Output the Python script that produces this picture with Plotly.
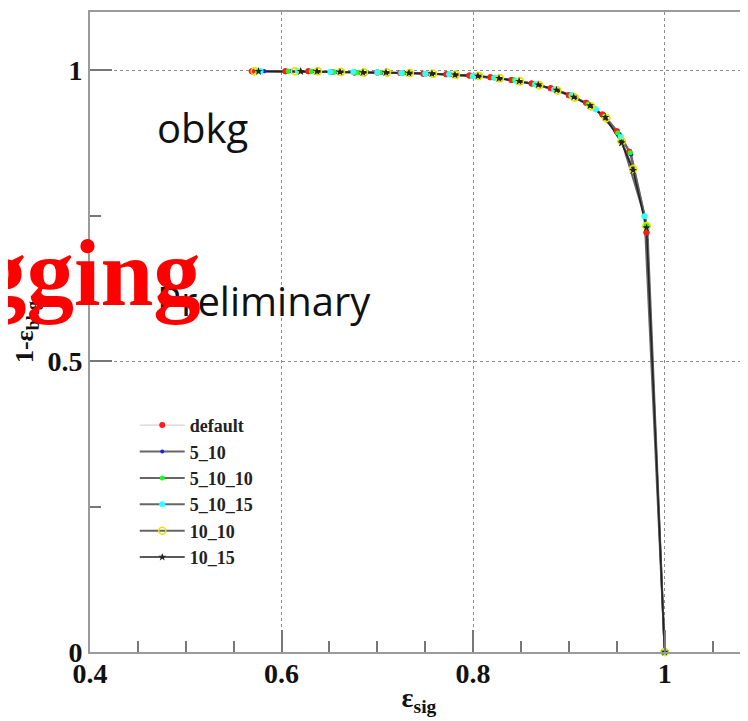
import plotly.graph_objects as go

# ---------------- data ----------------
series_names = ["default", "5_10", "5_10_10", "5_10_15", "10_10", "10_15"]

x_default = [0.569, 0.604, 0.628, 0.652, 0.676, 0.700, 0.724, 0.748, 0.772, 0.796, 0.818,
             0.840, 0.861, 0.881, 0.900, 0.918, 0.935, 0.950, 0.963, 0.981, 1.0]
y_default = [0.998, 0.998, 0.998, 0.997, 0.996, 0.996, 0.995, 0.994, 0.993, 0.991, 0.988,
             0.983, 0.977, 0.969, 0.957, 0.944, 0.924, 0.895, 0.860, 0.721, 0.0]

x_5_10 = [0.582, 0.610, 0.634, 0.658, 0.682, 0.706, 0.730, 0.754, 0.778, 0.802, 0.824,
          0.846, 0.866, 0.886, 0.904, 0.922, 0.938, 0.953, 0.965, 0.982, 1.0]
y_5_10 = [0.998, 0.998, 0.998, 0.997, 0.996, 0.996, 0.995, 0.994, 0.992, 0.990, 0.987,
          0.982, 0.975, 0.966, 0.955, 0.940, 0.920, 0.890, 0.855, 0.728, 0.0]

x_5_10_10 = [0.575, 0.607, 0.631, 0.655, 0.679, 0.703, 0.727, 0.751, 0.775, 0.799, 0.821,
             0.843, 0.864, 0.884, 0.902, 0.920, 0.937, 0.951, 0.964, 0.981, 1.0]
y_5_10_10 = [0.998, 0.998, 0.998, 0.997, 0.996, 0.996, 0.995, 0.994, 0.993, 0.990, 0.987,
             0.983, 0.976, 0.967, 0.956, 0.942, 0.921, 0.892, 0.858, 0.735, 0.0]

x_5_10_15 = [0.578, 0.617, 0.651, 0.675, 0.700, 0.725, 0.750, 0.775, 0.800, 0.823, 0.845,
             0.865, 0.885, 0.903, 0.928, 0.954, 0.979, 1.0]
y_5_10_15 = [0.998, 0.998, 0.997, 0.997, 0.996, 0.995, 0.994, 0.993, 0.990, 0.987, 0.982,
             0.976, 0.967, 0.957, 0.933, 0.885, 0.749, 0.0]

x_10_10 = [0.572, 0.614, 0.638, 0.662, 0.686, 0.710, 0.734, 0.758, 0.782, 0.806, 0.828,
           0.849, 0.869, 0.888, 0.906, 0.923, 0.939, 0.955, 0.967, 0.981, 1.0]
y_10_10 = [0.998, 0.998, 0.998, 0.997, 0.996, 0.996, 0.995, 0.994, 0.992, 0.990, 0.986,
           0.981, 0.974, 0.965, 0.953, 0.938, 0.918, 0.878, 0.830, 0.732, 0.0]

x_10_15 = [0.576, 0.620, 0.637, 0.661, 0.685, 0.709, 0.733, 0.757, 0.781, 0.805, 0.827,
           0.848, 0.868, 0.887, 0.905, 0.922, 0.938, 0.955, 0.967, 0.981, 1.0]
y_10_15 = [0.998, 0.998, 0.998, 0.997, 0.996, 0.996, 0.995, 0.994, 0.992, 0.990, 0.986,
           0.981, 0.975, 0.966, 0.954, 0.939, 0.919, 0.875, 0.828, 0.729, 0.0]

x_tick_vals = [0.4, 0.6, 0.8, 1.0]
x_tick_text = ["0.4", "0.6", "0.8", "1"]
y_tick_vals = [0, 0.5, 1.0]
y_tick_text = ["0", "0.5", "1"]

xs = [x_default, x_5_10, x_5_10_10, x_5_10_15, x_10_10, x_10_15]
ys = [y_default, y_5_10, y_5_10_10, y_5_10_15, y_10_10, y_10_15]

# ---------------- styles ----------------
line_styles = [dict(color="#c8c8c8", width=1),
               dict(color="#666666", width=2),
               dict(color="#666666", width=2),
               dict(color="#666666", width=2),
               dict(color="#666666", width=2),
               dict(color="#222222", width=1.5)]
marker_styles = [dict(symbol="circle", size=6, color="#ff1a1a"),
                 dict(symbol="circle", size=4, color="#1a1aff"),
                 dict(symbol="circle", size=5, color="#1aff1a"),
                 dict(symbol="circle", size=6, color="#33ffff"),
                 dict(symbol="circle-open", size=7, color="#e6e600", line=dict(width=1.5, color="#e6e600")),
                 dict(symbol="star", size=6, color="#222222")]

fig = go.Figure()

for name, x, y, ls, ms in zip(series_names, xs, ys, line_styles, marker_styles):
    fig.add_trace(go.Scatter(x=x, y=y, name=name, mode="lines+markers",
                             line=ls, marker=ms, cliponaxis=False))

# markers re-drawn on top so that colored points stay visible over the lines
for name, x, y, ms in zip(series_names, xs, ys, marker_styles):
    fig.add_trace(go.Scatter(x=x, y=y, name=name, mode="markers", marker=ms,
                             showlegend=False, hoverinfo="skip", cliponaxis=False))

axis_color = "#9a9a9a"
tick_font = dict(family="Liberation Serif", size=28, color="#111111", weight="bold")

fig.update_xaxes(
    range=[0.4, 1.087], tickvals=x_tick_vals, ticktext=x_tick_text,
    ticks="inside", ticklen=22, tickwidth=1.5, tickcolor="#777777",
    minor=dict(dtick=0.05, tick0=0.4, ticks="inside", ticklen=11, tickwidth=1.5,
               tickcolor="#777777", showgrid=False),
    showgrid=True, gridcolor="#8c8c8c", griddash="dot", gridwidth=1,
    showline=True, linecolor=axis_color, linewidth=2, mirror=True,
    zeroline=False, tickfont=tick_font, ticklabelstandoff=-5,
    title=dict(text="ε<sub>sig</sub>",
               font=dict(family="Liberation Serif", size=28, color="#111111", weight="bold"),
               standoff=0),
)
fig.update_yaxes(
    range=[0, 1.1], tickvals=y_tick_vals, ticktext=y_tick_text,
    ticks="inside", ticklen=22, tickwidth=1.5, tickcolor="#777777",
    minor=dict(dtick=0.25, tick0=0, ticks="inside", ticklen=11, tickwidth=1.5,
               tickcolor="#777777", showgrid=False),
    showgrid=True, gridcolor="#8c8c8c", griddash="dot", gridwidth=1,
    showline=True, linecolor=axis_color, linewidth=2, mirror=False,
    zeroline=False, tickfont=tick_font, ticklabelstandoff=0,
    title=dict(text="1-ε<sub>bkg</sub>",
               font=dict(family="Liberation Serif", size=26, color="#111111", weight="bold"),
               standoff=6),
)

# white patch under the legend (hides the grid like the reference)
fig.add_shape(type="rect", xref="paper", yref="paper", x0=0.068, x1=0.307, y0=0.128, y1=0.38,
              fillcolor="white", line=dict(width=0), layer="between")

# the page body has an 8px margin, so the figure margins are reduced by 8px on left/top
fig.update_layout(
    width=748, height=721,
    margin=dict(l=82, r=8, t=4, b=77, autoexpand=False),
    paper_bgcolor="white", plot_bgcolor="white",
    showlegend=True,
    legend=dict(x=0.068, y=0.383, xanchor="left", yanchor="top",
                bgcolor="white", borderwidth=0, itemwidth=45,
                font=dict(family="Liberation Serif", size=18, color="#222222", weight="bold")),
    annotations=[
        dict(text="obkg", xref="paper", yref="paper", x=0.099, y=0.819,
             xanchor="left", yanchor="middle", showarrow=False,
             font=dict(family="Open Sans", size=40, color="#111111")),
        dict(text="Preliminary", xref="paper", yref="paper", x=0.099, y=0.550,
             xanchor="left", yanchor="middle", showarrow=False,
             font=dict(family="Open Sans", size=40, color="#111111")),
        dict(text="<b>gging</b>", xref="paper", yref="paper", x=0.172, y=0.592,
             xanchor="right", yanchor="middle", showarrow=False,
             font=dict(family="Liberation Serif", size=95, color="#ff0000")),
    ],
)

fig.write_html("out.html")
